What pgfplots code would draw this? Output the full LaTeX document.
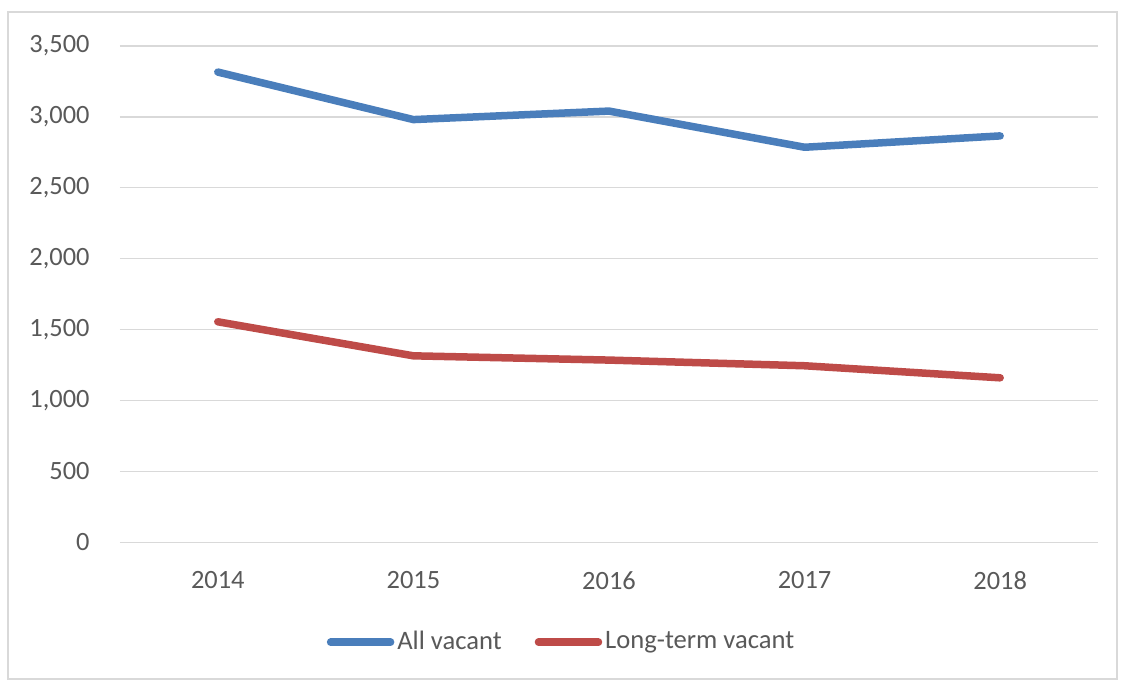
\documentclass[border=0pt]{standalone}
\usepackage{pgfplots}
\pgfplotsset{compat=1.18}
\usepackage{fontspec}
\setmainfont{Carlito}
\definecolor{txt}{HTML}{595959}
\definecolor{gridc}{HTML}{D9D9D9}
\definecolor{blue1}{HTML}{4A7EBB}
\definecolor{red1}{HTML}{BE4B48}
\begin{document}
\fontsize{13.2}{16}\selectfont
\begin{tikzpicture}
\useasboundingbox (0,0) rectangle (560.5pt,-340.5pt);
\draw[gridc, line width=1pt] (3.8pt,-5.8pt) rectangle (558.5pt,-339.5pt);
\begin{axis}[
  at={(60pt,-271.2pt)}, anchor=south west,
  scale only axis, width=489pt, height=248.3pt,
  xmin=-0.5, xmax=4.5, ymin=0, ymax=3500,
  xtick={0,1,2,3,4}, xticklabels={2014,2015,2016,2017,2018},
  ytick={0,500,...,3500},
  axis line style={draw=none}, tick style={draw=none},
  ymajorgrids, grid style={gridc, line width=0.8pt},
  /pgf/number format/.cd, 1000 sep={,}, assume math mode=true, /pgfplots/.cd,
  tick label style={font=\fontsize{13.2}{16}\selectfont, text=txt},
  yticklabel style={xshift=-10.6pt},
  xticklabel style={yshift=-10pt},
  legend style={at={(axis description cs:0.452,-0.201)}, anchor=center, draw=none,
    legend columns=2, font=\fontsize{13.3}{16}\selectfont, text=txt,
    /tikz/every even column/.append style={column sep=15pt},
    nodes={inner sep=1.5pt}},
  legend image code/.code={\draw[#1, line cap=round] (0pt,0pt) -- (30pt,0pt);},
]
\addplot[blue1, line width=3.75pt, line cap=round, line join=round] coordinates {
 (0,3315) (1,2980) (2,3040) (3,2785) (4,2865)};
\addlegendentry{All vacant}
\addplot[red1, line width=3.75pt, line cap=round, line join=round] coordinates {
 (0,1555) (1,1315) (2,1285) (3,1245) (4,1160)};
\addlegendentry{Long-term vacant}
\end{axis}
\end{tikzpicture}
\end{document}
